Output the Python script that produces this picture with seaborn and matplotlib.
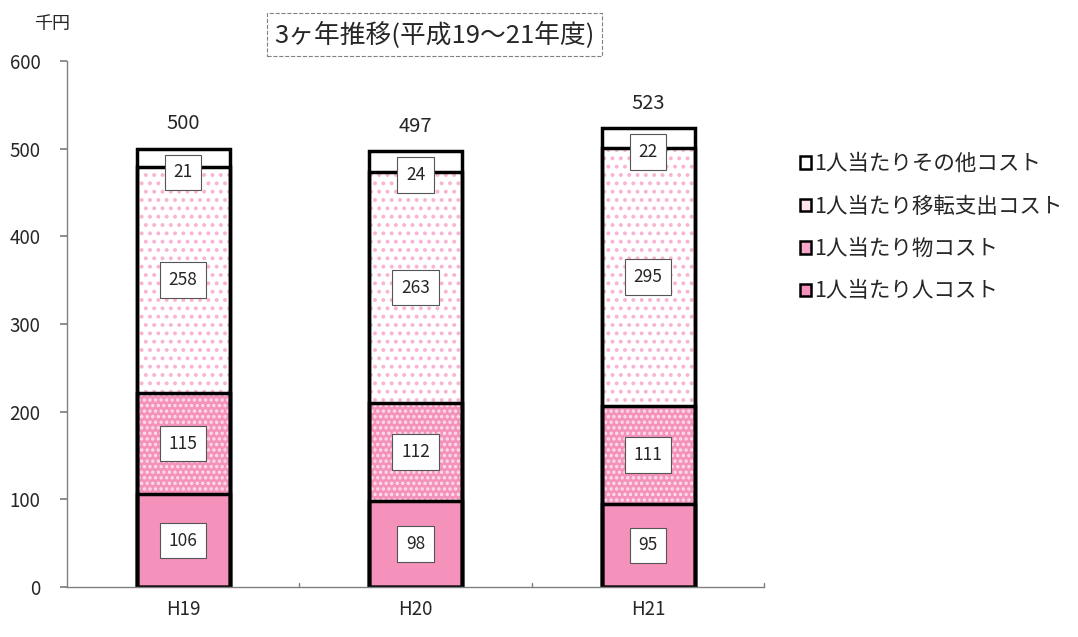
import numpy as np
import pandas as pd
import matplotlib
matplotlib.use("Agg")
import matplotlib.pyplot as plt
import matplotlib.patches as mpatches
import seaborn as sns

years = ["H19", "H20", "H21"]
jin_cost = [106, 98, 95]          # 1人当たり人コスト
mono_cost = [115, 112, 111]       # 1人当たり物コスト
iten_cost = [258, 263, 295]       # 1人当たり移転支出コスト
sonota_cost = [21, 24, 22]        # 1人当たりその他コスト
totals = [500, 497, 523]

series_names = ["1人当たり人コスト", "1人当たり物コスト",
                "1人当たり移転支出コスト", "1人当たりその他コスト"]

sns.set_theme(style="white")
plt.rcParams["font.family"] = ["Noto Sans CJK JP", "DejaVu Sans"]
plt.rcParams["hatch.linewidth"] = 1.6

pink = "#F492BC"
layers = [
    # (fill colour, hatch, hatch colour)
    (pink, None, pink),
    (pink, "...", "#FCE0EC"),
    ("white", "..", "#F8B4D2"),
    ("white", None, "white"),
]

df = pd.DataFrame({"year": years, "jin": jin_cost, "mono": mono_cost,
                   "iten": iten_cost, "sonota": sonota_cost})
cols = ["jin", "mono", "iten", "sonota"]
cum = df[cols].cumsum(axis=1)

fig = plt.figure(figsize=(10.78, 6.37), dpi=100)
ax = fig.add_axes([0.062, 0.0785, 0.647, 0.826])

# fills, drawn from the tallest cumulative bar down
for i in range(3, -1, -1):
    n0 = len(ax.patches)
    sns.barplot(x=df["year"], y=cum[cols[i]], color=layers[i][0], saturation=1,
                width=0.4, ax=ax, linewidth=0)
    for p in ax.patches[n0:]:
        p.set_facecolor(layers[i][0])
        if layers[i][1]:
            p.set_hatch(layers[i][1])
            p.set_edgecolor(layers[i][2])
        p.set_linewidth(0)

# black outlines
for i in range(4):
    n0 = len(ax.patches)
    sns.barplot(x=df["year"], y=cum[cols[i]], fill=False, width=0.4, ax=ax,
                linewidth=0)
    for p in ax.patches[n0:]:
        p.set_fill(False)
        p.set_edgecolor("black")
        p.set_linewidth(2.5)
        p.set_hatch(None)

box = dict(boxstyle="square,pad=0.5", fc="white", ec="#555555", lw=0.8)
for j, yr in enumerate(years):
    bottom = 0
    for c in cols[:3]:
        v = df[c][j]
        ax.text(j, bottom + v / 2, str(v), ha="center", va="center",
                fontsize=12.5, bbox=box, zorder=5)
        bottom += v
    ax.text(j, totals[j] - 27, str(sonota_cost[j]), ha="center", va="center",
            fontsize=12.5, bbox=box, zorder=5)
    ax.text(j, totals[j] + 16, str(totals[j]), ha="center", va="bottom",
            fontsize=14.5)

ax.set_ylim(0, 600)
ax.set_xlim(-0.5, 2.5)
ax.set_yticks(range(0, 601, 100))
ax.set_xlabel("")
ax.set_ylabel("")
for s in ["top", "right"]:
    ax.spines[s].set_visible(False)
for s in ["left", "bottom"]:
    ax.spines[s].set_color("#808080")
    ax.spines[s].set_linewidth(1)
ax.tick_params(axis="y", left=True, length=5, color="#808080", labelsize=13.5,
               pad=14)
ax.tick_params(axis="x", bottom=False, labelsize=13.5, pad=3)
for xb in [0.5, 1.5, 2.5]:
    ax.plot([xb, xb], [0, 5], color="#808080", lw=1, clip_on=False)

fig.text(0.048, 0.963, "千円", fontsize=13, ha="center", va="center")
fig.text(0.403, 0.946, "3ヶ年推移(平成19～21年度)", fontsize=18.5,
         ha="center", va="center",
         bbox=dict(boxstyle="square,pad=0.3", fc="white", ec="#808080",
                   ls="--", lw=0.8))

handles = []
for i in range(3, -1, -1):
    h = mpatches.Patch(facecolor=layers[i][0], edgecolor="black", lw=1.8,
                       label=series_names[i])
    handles.append(h)
handles[1].set_facecolor("#FDE4EF")
handles[2].set_facecolor("#F7A8CA")
leg = ax.legend(handles=handles, loc="upper left",
                bbox_to_anchor=(0.724, 0.79), bbox_transform=fig.transFigure,
                frameon=False, fontsize=15.5, handlelength=0.5, handleheight=0.5,
                handletextpad=0.15, labelspacing=0.95)

fig.savefig("out.png", dpi=100)
